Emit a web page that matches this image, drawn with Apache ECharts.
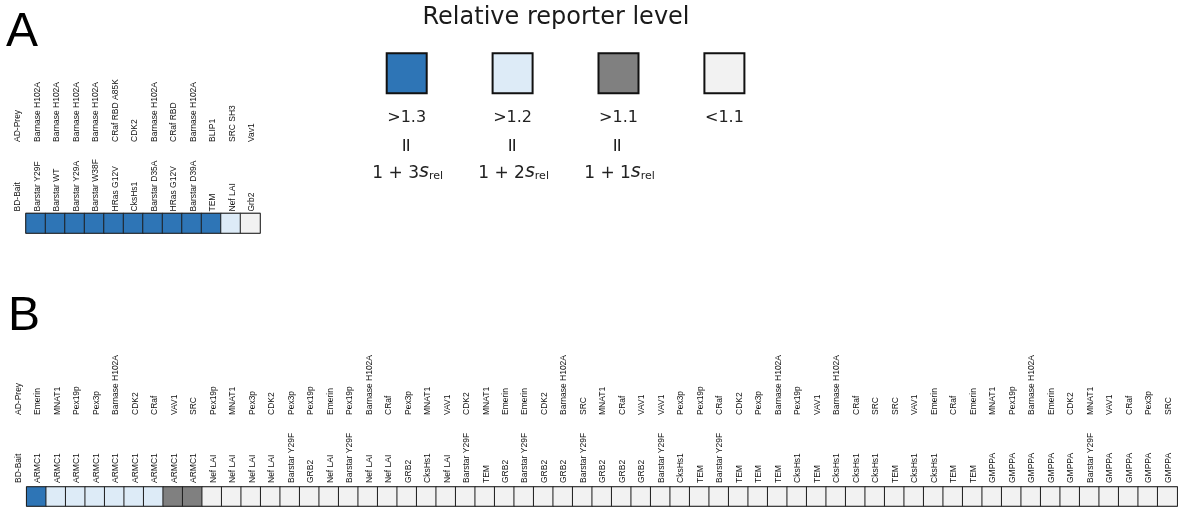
<!DOCTYPE html>
<html>
<head>
<meta charset="utf-8">
<script src="https://cdn.jsdelivr.net/npm/echarts@6/dist/echarts.min.js"></script>
<style>
  html, body { margin: 0; padding: 0; background: #ffffff; }
  #chart { width: 1178px; height: 508px; }
</style>
</head>
<body>
<div id="chart"></div>
<script>
// Level codes: 3 = >1.3, 2 = >1.2, 1 = >1.1, 0 = <1.1
const levelTexts = ['<1.1', '>1.1', '>1.2', '>1.3'];
const levelSigmas = [null, '1', '2', '3'];
const levelColors = ['#f2f2f2', '#808080', '#ddebf7', '#2e75b6'];

// Panel A: known interaction pairs
const baitsA = ['Barstar Y29F', 'Barstar WT', 'Barstar Y29A', 'Barstar W38F', 'HRas G12V', 'CksHs1',
  'Barstar D35A', 'HRas G12V', 'Barstar D39A', 'TEM', 'Nef LAI', 'Grb2'];
const preysA = ['Barnase H102A', 'Barnase H102A', 'Barnase H102A', 'Barnase H102A', 'CRaf RBD A85K', 'CDK2',
  'Barnase H102A', 'CRaf RBD', 'Barnase H102A', 'BLIP1', 'SRC SH3', 'Vav1'];
const levelsA = [3, 3, 3, 3, 3, 3, 3, 3, 3, 3, 2, 0];

// Panel B: screened pairs
const baitsB = ['ARMC1', 'ARMC1', 'ARMC1', 'ARMC1', 'ARMC1', 'ARMC1', 'ARMC1', 'ARMC1', 'ARMC1',
  'Nef LAI', 'Nef LAI', 'Nef LAI', 'Nef LAI', 'Barstar Y29F', 'GRB2', 'Nef LAI', 'Barstar Y29F', 'Nef LAI',
  'Nef LAI', 'GRB2', 'CksHs1', 'Nef LAI', 'Barstar Y29F', 'TEM', 'GRB2', 'Barstar Y29F', 'GRB2', 'GRB2',
  'Barstar Y29F', 'GRB2', 'GRB2', 'GRB2', 'Barstar Y29F', 'CksHs1', 'TEM', 'Barstar Y29F', 'TEM', 'TEM',
  'TEM', 'CksHs1', 'TEM', 'CksHs1', 'CksHs1', 'CksHs1', 'TEM', 'CksHs1', 'CksHs1', 'TEM', 'TEM',
  'GMPPA', 'GMPPA', 'GMPPA', 'GMPPA', 'GMPPA', 'Barstar Y29F', 'GMPPA', 'GMPPA', 'GMPPA', 'GMPPA'];
const preysB = ['Emerin', 'MNAT1', 'Pex19p', 'Pex3p', 'Barnase H102A', 'CDK2', 'CRaf', 'VAV1', 'SRC',
  'Pex19p', 'MNAT1', 'Pex3p', 'CDK2', 'Pex3p', 'Pex19p', 'Emerin', 'Pex19p', 'Barnase H102A',
  'CRaf', 'Pex3p', 'MNAT1', 'VAV1', 'CDK2', 'MNAT1', 'Emerin', 'Emerin', 'CDK2', 'Barnase H102A',
  'SRC', 'MNAT1', 'CRaf', 'VAV1', 'VAV1', 'Pex3p', 'Pex19p', 'CRaf', 'CDK2', 'Pex3p',
  'Barnase H102A', 'Pex19p', 'VAV1', 'Barnase H102A', 'CRaf', 'SRC', 'SRC', 'VAV1', 'Emerin',
  'CRaf', 'Emerin', 'MNAT1', 'Pex19p', 'Barnase H102A', 'Emerin', 'CDK2', 'MNAT1', 'VAV1',
  'CRaf', 'Pex3p', 'SRC'];
const levelsB = [3, 2, 2, 2, 2, 2, 2, 1, 1,
  0, 0, 0, 0, 0, 0, 0, 0, 0, 0, 0, 0, 0, 0, 0, 0, 0, 0, 0, 0,
  0, 0, 0, 0, 0, 0, 0, 0, 0, 0, 0, 0, 0, 0, 0, 0, 0, 0, 0, 0,
  0, 0, 0, 0, 0, 0, 0, 0, 0, 0];

const baitHeader = 'BD-Bait';
const preyHeader = 'AD-Prey';

const LABEL_FONT = "'Liberation Sans', Arial, sans-serif";
const LEGEND_FONT = "'DejaVu Sans', sans-serif";
const CELL = 19.5;

const chart = echarts.init(document.getElementById('chart'), null, { renderer: 'canvas' });

// Geometry of the two strips
const panels = [
  { baits: baitsA, preys: preysA, levels: levelsA, left: 26, top: 213.5, height: 19.5, baitGap: 2, preyBottom: 142 },
  { baits: baitsB, preys: preysB, levels: levelsB, left: 26.7, top: 487, height: 19, baitGap: 4, preyBottom: 415 }
];

const grid = [], xAxis = [], yAxis = [], series = [];

function labelAxis(gridIndex, data) {
  return {
    type: 'category', gridIndex, position: 'top', data,
    axisLine: { show: false }, axisTick: { show: false }, splitLine: { show: false },
    axisLabel: { rotate: 90, interval: 0, margin: 0, fontSize: 8.5, color: '#111', fontFamily: LABEL_FONT }
  };
}

panels.forEach((p, k) => {
  const n = p.levels.length;
  const labelLeft = p.left - CELL + 1.5;
  // cells
  const gCell = grid.length;
  grid.push({ left: p.left, top: p.top, width: CELL * n, height: p.height, show: true, borderColor: '#777', borderWidth: 1.5 });
  xAxis.push({ type: 'category', gridIndex: gCell, data: p.baits, show: false });
  yAxis.push({ type: 'category', gridIndex: gCell, data: [''], show: false });
  series.push({
    type: 'heatmap', name: k === 0 ? 'A' : 'B',
    xAxisIndex: gCell, yAxisIndex: gCell,
    data: p.levels.map((v, i) => [i, 0, v]),
    itemStyle: { borderColor: '#1e1e1e', borderWidth: 1 },
    emphasis: { disabled: true }
  });
  // bait label row
  const gBait = grid.length;
  grid.push({ left: labelLeft, top: p.top - p.baitGap, width: CELL * (n + 1), height: 1 });
  xAxis.push(labelAxis(gBait, [baitHeader].concat(p.baits)));
  yAxis.push({ type: 'value', gridIndex: gBait, show: false });
  // prey label row
  const gPrey = grid.length;
  grid.push({ left: labelLeft, top: p.preyBottom, width: CELL * (n + 1), height: 1 });
  xAxis.push(labelAxis(gPrey, [preyHeader].concat(p.preys)));
  yAxis.push({ type: 'value', gridIndex: gPrey, show: false });
});

// Legend of reporter levels, strongest first
const legendGraphics = [];
const legendCenters = [406.7, 512.6, 618.5, 724.4];
[3, 2, 1, 0].forEach((lvl, i) => {
  const cx = legendCenters[i];
  legendGraphics.push({
    type: 'rect', shape: { x: cx - 20, y: 53.3, width: 40, height: 40 },
    style: { fill: levelColors[lvl], stroke: '#111', lineWidth: 2 }
  });
  legendGraphics.push({
    type: 'text', x: cx, y: 118,
    style: { text: levelTexts[lvl], fontSize: 16, fontFamily: LEGEND_FONT, fill: '#222', align: 'center', verticalAlign: 'middle' }
  });
  if (levelSigmas[lvl]) {
    legendGraphics.push({
      type: 'text', x: cx, y: 145, rotation: Math.PI / 2,
      style: { text: '=', fontSize: 19, fontFamily: LEGEND_FONT, fill: '#222', align: 'center', verticalAlign: 'middle' }
    });
    legendGraphics.push({
      type: 'text', x: cx + 1, y: 172,
      style: {
        text: '{m|1 + ' + levelSigmas[lvl] + '}{s|s}{r|rel}',
        align: 'center', verticalAlign: 'middle',
        rich: {
          m: { fontSize: 17, fontFamily: LEGEND_FONT, fill: '#222', lineHeight: 20, verticalAlign: 'bottom' },
          s: { fontSize: 19, fontFamily: LEGEND_FONT, fontStyle: 'italic', fill: '#222', lineHeight: 20, verticalAlign: 'bottom' },
          r: { fontSize: 11, fontFamily: LEGEND_FONT, fill: '#222', lineHeight: 10, verticalAlign: 'bottom' }
        }
      }
    });
  }
});

const option = {
  backgroundColor: '#ffffff',
  animation: false,
  grid, xAxis, yAxis, series,
  visualMap: {
    type: 'piecewise', show: false, dimension: 2, seriesIndex: [0, 1],
    pieces: [0, 1, 2, 3].map(v => ({ value: v, color: levelColors[v], label: levelTexts[v] }))
  },
  graphic: [
    { type: 'text', x: 6, y: 33, style: { text: 'A', fontSize: 48, fontFamily: LABEL_FONT, fill: '#000', verticalAlign: 'middle' } },
    { type: 'text', x: 8, y: 317, style: { text: 'B', fontSize: 48, fontFamily: LABEL_FONT, fill: '#000', verticalAlign: 'middle' } },
    { type: 'text', x: 556, y: 18, style: { text: 'Relative reporter level', fontSize: 24, fontFamily: LEGEND_FONT, fill: '#1a1a1a', align: 'center', verticalAlign: 'middle' } }
  ].concat(legendGraphics)
};

chart.setOption(option);
</script>
</body>
</html>
